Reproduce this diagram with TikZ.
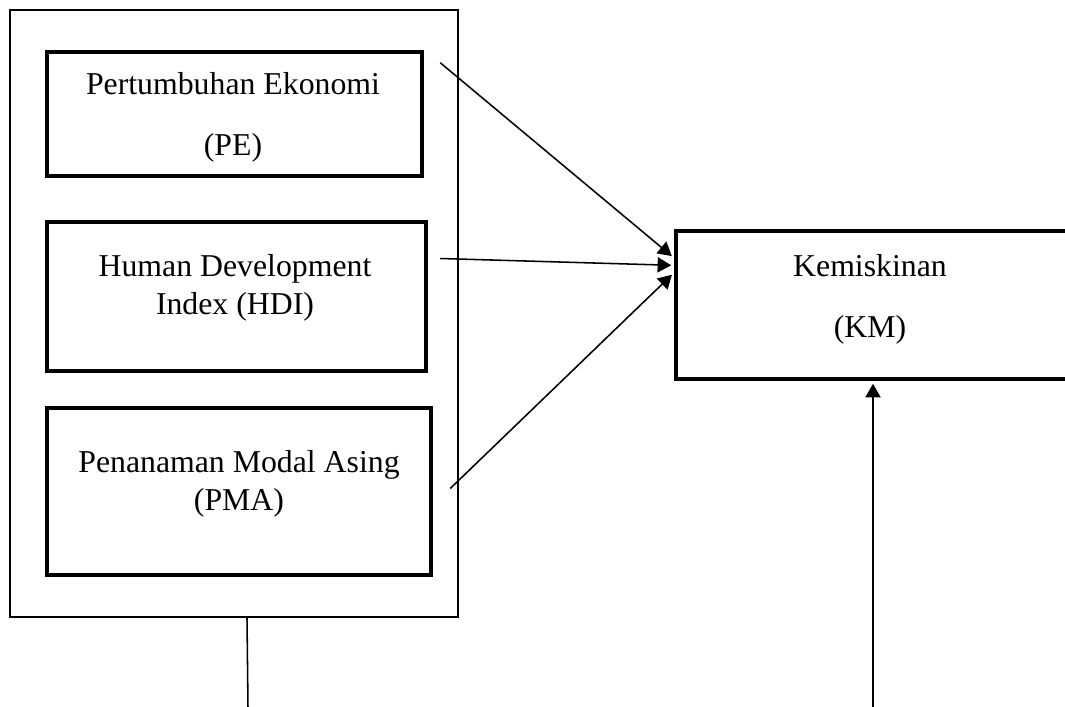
\documentclass[tikz,border=0pt]{standalone}
\usepackage{fontspec}
\setmainfont{Liberation Serif}
\usetikzlibrary{
	arrows.meta, % for nice-looking arrows
	fit,
	calc
	}

\begin{document}
\begin{tikzpicture}[
                x=0.0125cm, y=-0.0125cm,
                frame/.style={draw=black,line width=0.7pt,inner sep=0pt},
                var/.style={draw=black,line width=1.6pt,inner sep=0pt},
                wide/.style={align=center,font=\fontsize{11.3pt}{21.6pt}\selectfont},
                tight/.style={align=center,font=\fontsize{11.3pt}{13.5pt}\selectfont},
                link/.style={draw=black,line width=0.55pt},
                arr/.style={link,-{Triangle[length=1.7mm,width=1.9mm]}},
            ]
                \clip (0,0) rectangle (1065,707);
                \useasboundingbox (0,0) rectangle (1065,707);

                %% Independent variables
                \node[frame,fit={(10,10) (458,617)}] (X) {};
                \node[var,fit={(47,52) (422,176)}] (pe) {};
                \node[var,fit={(47,222) (426,371)}] (hdi) {};
                \node[var,fit={(47,408) (431,575)}] (pma) {};

                \node[wide] (pe-txt) at (233,117) {Pertumbuhan Ekonomi\\(PE)};
                \node[tight] (hdi-txt) at (235,288) {Human Development\\Index (HDI)};
                \node[tight] (pma-txt) at (239,484) {Penanaman Modal Asing\\(PMA)};

                %% Dependent variable (box runs past the right edge)
                \node[var,fit={(676,231) (1095,379)}] (km) {};
                \node[wide] (km-txt) at (870,299) {Kemiskinan\\(KM)};

                % Loose ends of the connectors
                \coordinate (pe-out) at ($(pe.north east)+(16,13)$);
                \coordinate (hdi-out) at ($(hdi.east)+(12,-38)$);
                \coordinate (pma-out) at ($(pma.east)+(17,-3)$);
                \coordinate (in-pe) at ($(km.north west)!0.19!(km.south west)$);
                \coordinate (in-hdi) at ($(km.north west)!0.24!(km.south west)$);
                \coordinate (in-pma) at ($(km.north west)!0.29!(km.south west)$);
                \coordinate (X-foot) at ($(X.south)+(14,90)$);
                \coordinate (km-foot) at (873,707);

                % Arrows
                \draw[arr,shorten >=0.9pt] (pe-out) -- (in-pe);
                \draw[arr,shorten >=0.9pt] (hdi-out) -- (in-hdi);
                \draw[arr,shorten >=0.9pt] (pma-out) -- (in-pma);
                \draw[link] ($(X.south)+(13,0)$) -- (X-foot);
                \draw[arr,shorten >=0.9pt] (km-foot) -- (km-foot |- km.south);

            \end{tikzpicture}
\end{document}
